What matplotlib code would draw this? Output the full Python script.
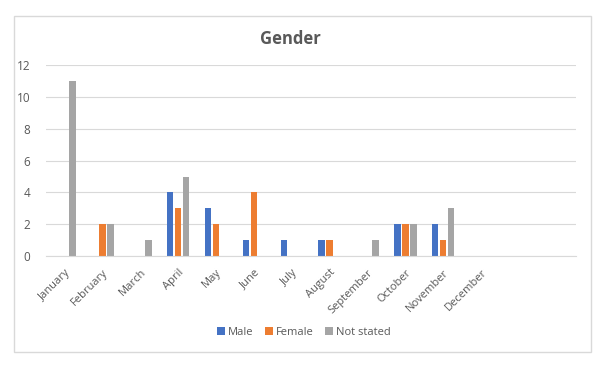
import matplotlib.pyplot as plt
from matplotlib.patches import Rectangle
import numpy as np

months = ["January", "February", "March", "April", "May", "June", "July",
          "August", "September", "October", "November", "December", "", ""]
male = [0, 0, 0, 4, 3, 1, 1, 1, 0, 2, 2, 0, 0, 0]
female = [0, 2, 0, 3, 2, 4, 0, 1, 0, 2, 1, 0, 0, 0]
not_stated = [11, 2, 1, 5, 0, 0, 0, 0, 1, 2, 3, 0, 0, 0]

series = [("Male", male, "#4472C4"),
          ("Female", female, "#ED7D31"),
          ("Not stated", not_stated, "#A5A5A5")]

txt = "#595959"
plt.rcParams["font.family"] = ["Open Sans", "DejaVu Sans"]

W, H = 609, 367
fig = plt.figure(figsize=(W / 100, H / 100), dpi=100)
# chart area border
fig.patches.append(Rectangle((14.3 / W, 1 - 352.3 / H), 576.4 / W, 336.3 / H,
                             transform=fig.transFigure, fill=False,
                             edgecolor="#d9d9d9", linewidth=1))

ax = fig.add_axes([45.7 / W, 1 - 256 / H, 530 / W, 190.7 / H])
x = np.arange(len(months))
step = 0.211
width = 0.169
for i, (name, vals, col) in enumerate(series):
    ax.bar(x + (i - 1) * step, vals, width, color=col, label=name, zorder=3)

ax.set_xlim(-0.5, len(months) - 0.5)
ax.set_ylim(0, 12)
ax.set_yticks(range(0, 13, 2))
ax.set_xticks(x)
ax.set_xticklabels(months, rotation=45, ha="right", rotation_mode="anchor",
                   fontsize=8, color=txt)
ax.tick_params(axis="y", labelsize=8.5, colors=txt, length=0, pad=11)
ax.tick_params(axis="x", length=0, pad=8)
ax.grid(axis="y", color="#d9d9d9", linewidth=0.8, zorder=0)
for s in ["top", "right", "left"]:
    ax.spines[s].set_visible(False)
ax.spines["bottom"].set_color("#d9d9d9")
ax.spines["bottom"].set_zorder(4)

fig.text(290.5 / W, 1 - 38.5 / H, "Gender", ha="center", va="center",
         fontsize=12, fontweight="bold", color=txt)

leg = fig.legend(loc="center", bbox_to_anchor=(304 / W, 1 - 332.5 / H),
                 ncol=3, frameon=False, fontsize=8, handlelength=0.7,
                 handleheight=0.7, handletextpad=0.3, columnspacing=1.0)
for t in leg.get_texts():
    t.set_color(txt)

fig.savefig("out.png", dpi=100)
